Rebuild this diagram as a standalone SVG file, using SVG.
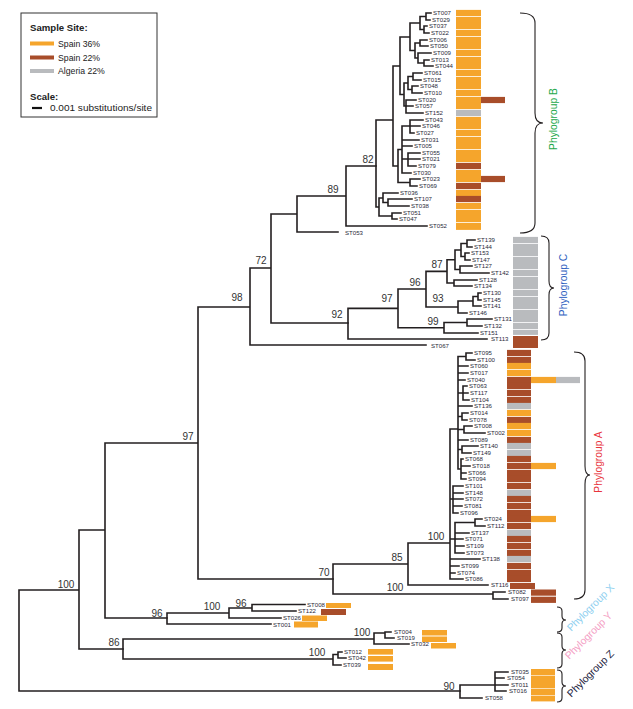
<svg xmlns="http://www.w3.org/2000/svg" width="633" height="709" viewBox="0 0 633 709">
<style>
.ln{fill:none;stroke:#231f20;stroke-width:1.6;stroke-linecap:square}
.br{fill:none;stroke:#231f20;stroke-width:1.1}
.lf{font-family:'Liberation Sans',Arial,sans-serif;font-size:6.1px;fill:#2a2a3a}
.bs{font-family:'Liberation Sans',Arial,sans-serif;font-size:10px;fill:#333;text-anchor:middle}
.lg{font-family:'Liberation Sans',Arial,sans-serif;font-size:8.7px;fill:#222}
.lgb{font-family:'Liberation Sans',Arial,sans-serif;font-size:9.6px;font-weight:bold;fill:#222}
.pg{font-family:'Liberation Sans',Arial,sans-serif;font-size:10.3px;text-anchor:middle}
.o{fill:#f5a52c}.b{fill:#a84d2a}.g{fill:#b9bbbe}
</style>
<rect width="633" height="709" fill="#fff"/>
<g id="legend">
<rect x="21" y="13" width="136" height="104" fill="#fff" stroke="#333" stroke-width="1"/>
<text class="lgb" x="30" y="30.5">Sample Site:</text>
<rect class="o" x="30" y="41.5" width="24" height="4"/><text class="lg" x="58" y="46.5">Spain 36%</text>
<rect class="b" x="30" y="55.5" width="24" height="4"/><text class="lg" x="58" y="60.5">Spain 22%</text>
<rect class="g" x="30" y="69" width="24" height="4"/><text class="lg" x="58" y="74">Algeria 22%</text>
<text class="lgb" x="30" y="99.5">Scale:</text>
<line x1="32" y1="108" x2="42" y2="108" stroke="#111" stroke-width="2.2"/>
<text class="lg" x="50" y="111" textLength="102" lengthAdjust="spacingAndGlyphs">0.001 substitutions/site</text>
</g>
<g id="connectors">
<path class="ln" d="M19 590V691M19 590H79M19 691H460M79 530V649M79 530H105M79 649H123M105 443V618M105 443H198M105 618H167M198 307V579M198 307H250M198 579H333M250 268V345M250 268H271M250 345H426M271 214V323M271 214H297M271 323H348M297 196V232M297 196H346M297 232H338M346 166V226M346 166H376M346 226H427"/>
<path class="ln" d="M376 120V207M376 120H393M393 66V166M393 66H400M400 37V94.5M400 37H410M410 23V50.5M410 23H420M420 16.5V29.5M420 16.5H426M426 13V20M426 13H431M426 20H430M420 29.5H424M424 26V33M424 26H427M424 33H429M410 50.5H415M415 43V58M415 43H420M420 40V46M420 40H427M420 46H428M415 58H418M418 53V63M418 53H431M418 63H424M424 60V66M424 60H429M424 66H433M400 94.5H404M404 83V106M404 83H408M408 76.5V89.5M408 76.5H413M413 73V80M413 73H422M413 80H421M408 89.5H412M412 86V93M412 86H418M412 93H422M404 106H406M406 100V113M406 100H416M406 106H413M406 113H423M393 166H398M398 149.5V182.5M398 149.5H402M402 126V173M402 126H410M410 120V133M410 120H423M410 126H420M410 133H414M402 140H419M402 146H412M402 159H408M408 153V166M408 153H420M408 159H420M408 166H416M402 173H411M398 182.5H410M410 179V186M410 179H420M410 186H417M376 207H379M379 198V216M379 198H383M383 193V202.5M383 193H398M383 202.5H388M388 199V206M388 199H412M388 206H409M379 216H392M392 213V219M392 213H401M392 219H397"/>
<path class="ln" d="M348 308.4V339M348 308.4H398M348 339H487M398 289V327.8M398 289H426M398 327.8H444M426 271.4V307M426 271.4H447M426 307H458M447 259.8V283M447 259.8H455M447 283H454M454 280V286M454 280H477M454 286H472M455 250V269.5M455 250H461M455 269.5H460M461 243.5V256.5M461 243.5H467M461 256.5H465M467 240V247M467 240H475M467 247H472M465 253V260M465 253H469M465 260H470M460 266V273M460 266H472M460 273H489M458 301V313M458 301H473M458 313H467M473 296.5V306M473 296.5H478M473 306H481M478 293V300M478 293H481M478 300H481M444 322.5V333M444 322.5H467M444 333H478M467 319V326M467 319H492M467 326H482"/>
<path class="ln" d="M333 564V594M333 564H408M333 594H493M493 592V599M493 592H505M493 599H508M408 543V585M408 543H450M408 585H488M450 429V579M450 429H458M458 356.5V469M458 356.5H466M466 353V360M466 353H472M466 360H475M458 366H468M458 373H468M458 380H465M458 393H463M463 386V400M463 386H467M463 393H468M463 400H469M458 406H472M458 416.5H462M462 413V420M462 413H468M462 420H467M458 429.5H464M464 426V433M464 426H472M464 433H485M458 440H468M458 449.5H462M462 446V453M462 446H478M462 453H471M458 469H461M461 459V479M461 459H463M461 466H470M461 473H466M461 479H466M450 499H453M453 486V513M453 486H463M453 493H463M453 499H463M453 506H462M453 513H458M450 539H455M455 522.5V553M455 522.5H475M475 519V526M475 519H482M475 526H485M455 533H469M455 539H463M455 546H464M455 553H464M450 559H480M450 566H459M450 573H455M450 579H463"/>
<path class="ln" d="M167 613V624M167 613H229M167 624H271M229 608V618M229 608H252M229 618H281M252 604.5V611M252 604.5H305M252 611H296M123 639V659M123 639H374M123 659H333M374 633V644M374 633H385M385 632V638M385 632H391M385 638H394M374 644H409M333 654.5V665M333 654.5H338M338 652V658M338 652H342M338 658H346M333 665H341M460 685V698M460 685H495M495 672V691M495 672H508M495 678H504M495 685H508M495 691H506M460 698H482"/>
</g>
<g id="bootstrap">
<text class="bs" x="66" y="588">100</text>
<text class="bs" x="188" y="440">97</text>
<text class="bs" x="237" y="301">98</text>
<text class="bs" x="261" y="264">72</text>
<text class="bs" x="333" y="193">89</text>
<text class="bs" x="368" y="163">82</text>
<text class="bs" x="337" y="318">92</text>
<text class="bs" x="387" y="302">97</text>
<text class="bs" x="415" y="286">96</text>
<text class="bs" x="437" y="268">87</text>
<text class="bs" x="438" y="302">93</text>
<text class="bs" x="433" y="325">99</text>
<text class="bs" x="436" y="540">100</text>
<text class="bs" x="397" y="561">85</text>
<text class="bs" x="324" y="576">70</text>
<text class="bs" x="395" y="591">100</text>
<text class="bs" x="157" y="616.5">96</text>
<text class="bs" x="212" y="610">100</text>
<text class="bs" x="241" y="607">96</text>
<text class="bs" x="114" y="646">86</text>
<text class="bs" x="362" y="636">100</text>
<text class="bs" x="317" y="656">100</text>
<text class="bs" x="449" y="690">90</text>
</g>
<g id="group-B">
<g id="ST007"><text class="lf" x="433" y="15.2">ST007</text><rect class="o" x="456" y="9.9" width="25" height="6.2"/></g>
<g id="ST029"><text class="lf" x="432" y="22.2">ST029</text><rect class="o" x="456" y="16.9" width="25" height="6.2"/></g>
<g id="ST037"><text class="lf" x="429" y="28.2">ST037</text><rect class="o" x="456" y="22.9" width="25" height="6.2"/></g>
<g id="ST022"><text class="lf" x="431" y="35.2">ST022</text><rect class="o" x="456" y="29.9" width="25" height="6.2"/></g>
<g id="ST006"><text class="lf" x="429" y="42.2">ST006</text><rect class="o" x="456" y="36.9" width="25" height="6.2"/></g>
<g id="ST050"><text class="lf" x="430" y="48.2">ST050</text><rect class="o" x="456" y="42.9" width="25" height="6.2"/></g>
<g id="ST009"><text class="lf" x="433" y="55.2">ST009</text><rect class="o" x="456" y="49.9" width="25" height="6.2"/></g>
<g id="ST013"><text class="lf" x="431" y="62.2">ST013</text><rect class="o" x="456" y="56.9" width="25" height="6.2"/></g>
<g id="ST044"><text class="lf" x="435" y="68.2">ST044</text><rect class="o" x="456" y="62.9" width="25" height="6.2"/></g>
<g id="ST061"><text class="lf" x="424" y="75.2">ST061</text><rect class="o" x="456" y="69.9" width="25" height="6.2"/></g>
<g id="ST015"><text class="lf" x="423" y="82.2">ST015</text><rect class="o" x="456" y="76.9" width="25" height="6.2"/></g>
<g id="ST048"><text class="lf" x="420" y="88.2">ST048</text><rect class="o" x="456" y="82.9" width="25" height="6.2"/></g>
<g id="ST010"><text class="lf" x="424" y="95.2">ST010</text><rect class="o" x="456" y="89.9" width="25" height="6.2"/></g>
<g id="ST020"><text class="lf" x="418" y="102.2">ST020</text><rect class="o" x="456" y="96.9" width="25" height="6.2"/><rect class="b" x="481" y="96.9" width="24" height="6.2"/></g>
<g id="ST057"><text class="lf" x="415" y="108.2">ST057</text><rect class="o" x="456" y="102.9" width="25" height="6.2"/></g>
<g id="ST152"><text class="lf" x="425" y="115.2">ST152</text><rect class="g" x="456" y="109.9" width="25" height="6.2"/></g>
<g id="ST043"><text class="lf" x="425" y="122.2">ST043</text><rect class="o" x="456" y="116.9" width="25" height="6.2"/></g>
<g id="ST046"><text class="lf" x="422" y="128.2">ST046</text><rect class="o" x="456" y="122.9" width="25" height="6.2"/></g>
<g id="ST027"><text class="lf" x="416" y="135.2">ST027</text><rect class="o" x="456" y="129.9" width="25" height="6.2"/></g>
<g id="ST031"><text class="lf" x="421" y="142.2">ST031</text><rect class="o" x="456" y="136.9" width="25" height="6.2"/></g>
<g id="ST005"><text class="lf" x="414" y="148.2">ST005</text><rect class="o" x="456" y="142.9" width="25" height="6.2"/></g>
<g id="ST055"><text class="lf" x="422" y="155.2">ST055</text><rect class="o" x="456" y="149.9" width="25" height="6.2"/></g>
<g id="ST021"><text class="lf" x="422" y="161.2">ST021</text><rect class="o" x="456" y="155.9" width="25" height="6.2"/></g>
<g id="ST079"><text class="lf" x="418" y="168.2">ST079</text><rect class="b" x="456" y="162.9" width="25" height="6.2"/></g>
<g id="ST030"><text class="lf" x="413" y="175.2">ST030</text><rect class="o" x="456" y="169.9" width="25" height="6.2"/></g>
<g id="ST023"><text class="lf" x="422" y="181.2">ST023</text><rect class="o" x="456" y="175.9" width="25" height="6.2"/><rect class="b" x="481" y="175.9" width="24" height="6.2"/></g>
<g id="ST069"><text class="lf" x="419" y="188.2">ST069</text><rect class="b" x="456" y="182.9" width="25" height="6.2"/></g>
<g id="ST036"><text class="lf" x="400" y="195.2">ST036</text><rect class="o" x="456" y="189.9" width="25" height="6.2"/></g>
<g id="ST107"><text class="lf" x="414" y="201.2">ST107</text><rect class="b" x="456" y="195.9" width="25" height="6.2"/></g>
<g id="ST038"><text class="lf" x="411" y="208.2">ST038</text><rect class="o" x="456" y="202.9" width="25" height="6.2"/></g>
<g id="ST051"><text class="lf" x="403" y="215.2">ST051</text><rect class="o" x="456" y="209.9" width="25" height="6.2"/></g>
<g id="ST047"><text class="lf" x="399" y="221.2">ST047</text><rect class="o" x="456" y="215.9" width="25" height="6.2"/></g>
<g id="ST052"><text class="lf" x="429" y="228.2">ST052</text><rect class="o" x="456" y="222.9" width="25" height="7"/></g>
<g id="ST053"><text class="lf" x="345" y="235.2">ST053</text></g>
</g>
<g id="group-C">
<g id="ST139"><text class="lf" x="477" y="242.2">ST139</text><rect class="g" x="513" y="236.9" width="25" height="6.2"/></g>
<g id="ST144"><text class="lf" x="474" y="249.2">ST144</text><rect class="g" x="513" y="243.9" width="25" height="6.2"/></g>
<g id="ST153"><text class="lf" x="471" y="255.2">ST153</text><rect class="g" x="513" y="249.9" width="25" height="6.2"/></g>
<g id="ST147"><text class="lf" x="472" y="262.2">ST147</text><rect class="g" x="513" y="256.9" width="25" height="6.2"/></g>
<g id="ST127"><text class="lf" x="474" y="268.2">ST127</text><rect class="g" x="513" y="262.9" width="25" height="6.2"/></g>
<g id="ST142"><text class="lf" x="491" y="275.2">ST142</text><rect class="g" x="513" y="269.9" width="25" height="6.2"/></g>
<g id="ST128"><text class="lf" x="479" y="282.2">ST128</text><rect class="g" x="513" y="276.9" width="25" height="6.2"/></g>
<g id="ST134"><text class="lf" x="474" y="288.2">ST134</text><rect class="g" x="513" y="282.9" width="25" height="6.2"/></g>
<g id="ST130"><text class="lf" x="483" y="295.2">ST130</text><rect class="g" x="513" y="289.9" width="25" height="6.2"/></g>
<g id="ST145"><text class="lf" x="483" y="302.2">ST145</text><rect class="g" x="513" y="296.9" width="25" height="6.2"/></g>
<g id="ST141"><text class="lf" x="483" y="308.2">ST141</text><rect class="g" x="513" y="302.9" width="25" height="6.2"/></g>
<g id="ST146"><text class="lf" x="469" y="315.2">ST146</text><rect class="g" x="513" y="309.9" width="25" height="6.2"/></g>
<g id="ST131"><text class="lf" x="494" y="321.2">ST131</text><rect class="g" x="513" y="315.9" width="25" height="6.2"/></g>
<g id="ST132"><text class="lf" x="484" y="328.2">ST132</text><rect class="g" x="513" y="322.9" width="25" height="6.2"/></g>
<g id="ST151"><text class="lf" x="480" y="335.2">ST151</text><rect class="g" x="513" y="329.9" width="25" height="5"/></g>
<g id="ST113"><text class="lf" x="491" y="341.2">ST113</text><rect class="b" x="513" y="336" width="25" height="12"/></g>
<g id="ST067"><text class="lf" x="431" y="348.2">ST067</text></g>
</g>
<g id="group-A">
<g id="ST095"><text class="lf" x="474" y="355.2">ST095</text><rect class="b" x="507" y="349.9" width="24" height="6.2"/></g>
<g id="ST100"><text class="lf" x="477" y="362.2">ST100</text><rect class="b" x="507" y="356.9" width="24" height="6.2"/></g>
<g id="ST060"><text class="lf" x="470" y="368.2">ST060</text><rect class="o" x="507" y="362.9" width="24" height="6.2"/></g>
<g id="ST017"><text class="lf" x="470" y="375.2">ST017</text><rect class="o" x="507" y="369.9" width="24" height="6.2"/></g>
<g id="ST040"><text class="lf" x="467" y="382.2">ST040</text><rect class="b" x="507" y="376.9" width="24" height="6.2"/><rect class="o" x="531" y="376.9" width="25" height="6.2"/><rect class="g" x="556" y="376.9" width="24" height="6.2"/></g>
<g id="ST063"><text class="lf" x="469" y="388.2">ST063</text><rect class="b" x="507" y="382.9" width="24" height="6.2"/></g>
<g id="ST117"><text class="lf" x="470" y="395.2">ST117</text><rect class="b" x="507" y="389.9" width="24" height="6.2"/></g>
<g id="ST104"><text class="lf" x="471" y="402.2">ST104</text><rect class="b" x="507" y="396.9" width="24" height="6.2"/></g>
<g id="ST136"><text class="lf" x="474" y="408.2">ST136</text><rect class="g" x="507" y="402.9" width="24" height="6.2"/></g>
<g id="ST014"><text class="lf" x="470" y="415.2">ST014</text><rect class="o" x="507" y="409.9" width="24" height="6.2"/></g>
<g id="ST078"><text class="lf" x="469" y="422.2">ST078</text><rect class="b" x="507" y="416.9" width="24" height="6.2"/></g>
<g id="ST008a"><text class="lf" x="474" y="428.2">ST008</text><rect class="o" x="507" y="422.9" width="24" height="6.2"/></g>
<g id="ST002"><text class="lf" x="487" y="435.2">ST002</text><rect class="o" x="507" y="429.9" width="24" height="6.2"/></g>
<g id="ST089"><text class="lf" x="470" y="442.2">ST089</text><rect class="b" x="507" y="436.9" width="24" height="6.2"/></g>
<g id="ST140"><text class="lf" x="480" y="448.2">ST140</text><rect class="g" x="507" y="442.9" width="24" height="6.2"/></g>
<g id="ST149"><text class="lf" x="473" y="455.2">ST149</text><rect class="g" x="507" y="449.9" width="24" height="6.2"/></g>
<g id="ST068"><text class="lf" x="465" y="461.2">ST068</text><rect class="b" x="507" y="455.9" width="24" height="6.2"/></g>
<g id="ST018"><text class="lf" x="472" y="468.2">ST018</text><rect class="b" x="507" y="462.9" width="24" height="6.2"/><rect class="o" x="531" y="462.9" width="25" height="6.2"/></g>
<g id="ST066"><text class="lf" x="468" y="475.2">ST066</text><rect class="b" x="507" y="469.9" width="24" height="6.2"/></g>
<g id="ST094"><text class="lf" x="468" y="481.2">ST094</text><rect class="b" x="507" y="475.9" width="24" height="6.2"/></g>
<g id="ST101"><text class="lf" x="465" y="488.2">ST101</text><rect class="b" x="507" y="482.9" width="24" height="6.2"/></g>
<g id="ST148"><text class="lf" x="465" y="495.2">ST148</text><rect class="g" x="507" y="489.9" width="24" height="6.2"/></g>
<g id="ST072"><text class="lf" x="465" y="501.2">ST072</text><rect class="b" x="507" y="495.9" width="24" height="6.2"/></g>
<g id="ST081"><text class="lf" x="464" y="508.2">ST081</text><rect class="b" x="507" y="502.9" width="24" height="6.2"/></g>
<g id="ST096"><text class="lf" x="460" y="515.2">ST096</text><rect class="b" x="507" y="509.9" width="24" height="6.2"/></g>
<g id="ST024"><text class="lf" x="484" y="521.2">ST024</text><rect class="b" x="507" y="515.9" width="24" height="6.2"/><rect class="o" x="531" y="515.9" width="25" height="6.2"/></g>
<g id="ST112"><text class="lf" x="487" y="528.2">ST112</text><rect class="b" x="507" y="522.9" width="24" height="6.2"/></g>
<g id="ST137"><text class="lf" x="471" y="535.2">ST137</text><rect class="g" x="507" y="529.9" width="24" height="6.2"/></g>
<g id="ST071"><text class="lf" x="465" y="541.2">ST071</text><rect class="b" x="507" y="535.9" width="24" height="6.2"/></g>
<g id="ST109"><text class="lf" x="466" y="548.2">ST109</text><rect class="b" x="507" y="542.9" width="24" height="6.2"/></g>
<g id="ST073"><text class="lf" x="466" y="555.2">ST073</text><rect class="b" x="507" y="549.9" width="24" height="6.2"/></g>
<g id="ST138"><text class="lf" x="482" y="561.2">ST138</text><rect class="g" x="507" y="555.9" width="24" height="6.2"/></g>
<g id="ST099"><text class="lf" x="461" y="568.2">ST099</text><rect class="b" x="507" y="562.9" width="24" height="6.2"/></g>
<g id="ST074"><text class="lf" x="457" y="575.2">ST074</text><rect class="b" x="507" y="569.9" width="24" height="6.2"/></g>
<g id="ST086"><text class="lf" x="465" y="581.2">ST086</text><rect class="b" x="507" y="575.9" width="24" height="6.2"/></g>
<g id="ST116"><text class="lf" x="491" y="587.2">ST116</text><rect class="b" x="510" y="583" width="25" height="6"/></g>
<g id="ST082"><text class="lf" x="508" y="594.2">ST082</text><rect class="b" x="531" y="589.5" width="25" height="6.2"/></g>
<g id="ST097"><text class="lf" x="511" y="601.2">ST097</text><rect class="b" x="531" y="596.7" width="25" height="6.2"/></g>
</g>
<g id="group-XYZ">
<g id="ST008"><text class="lf" x="307" y="606.7">ST008</text><rect class="o" x="326" y="603" width="25" height="5"/></g>
<g id="ST122"><text class="lf" x="298" y="613.2">ST122</text><rect class="b" x="321" y="609" width="25" height="6"/></g>
<g id="ST026"><text class="lf" x="283" y="620.2">ST026</text><rect class="o" x="302" y="615.5" width="25" height="5.5"/></g>
<g id="ST001"><text class="lf" x="273" y="626.7">ST001</text><rect class="o" x="294" y="621.5" width="24" height="6"/></g>
<g id="ST004"><text class="lf" x="394" y="634.2">ST004</text><rect class="o" x="422" y="630" width="25" height="5.5"/></g>
<g id="ST019"><text class="lf" x="397" y="640.2">ST019</text><rect class="o" x="422" y="636.5" width="25" height="5.5"/></g>
<g id="ST032"><text class="lf" x="411" y="646.2">ST032</text><rect class="o" x="431" y="643" width="25" height="5.5"/></g>
<g id="ST012"><text class="lf" x="344" y="654.2">ST012</text><rect class="o" x="368" y="649" width="25" height="5.6"/></g>
<g id="ST042"><text class="lf" x="348" y="660.2">ST042</text><rect class="o" x="368" y="656" width="25" height="5.6"/></g>
<g id="ST039"><text class="lf" x="343" y="667.2">ST039</text><rect class="o" x="368" y="664" width="25" height="6"/></g>
<g id="ST035"><text class="lf" x="511" y="674.2">ST035</text><rect class="o" x="531" y="669" width="24" height="6"/></g>
<g id="ST054"><text class="lf" x="507" y="680.2">ST054</text><rect class="o" x="531" y="675.6" width="24" height="6.4"/></g>
<g id="ST011"><text class="lf" x="511" y="687.2">ST011</text><rect class="o" x="531" y="682" width="24" height="6.2"/></g>
<g id="ST016"><text class="lf" x="509" y="693.2">ST016</text><rect class="o" x="531" y="688.8" width="24" height="6.2"/></g>
<g id="ST058"><text class="lf" x="485" y="700.2">ST058</text><rect class="o" x="531" y="695.6" width="24" height="5.8"/></g>
</g>
<g id="phylogroups">
<path class="br" d="M520 13Q535 13 535 23V113Q535 123 543 123Q535 123 535 133V223Q535 233 520 233"/>
<text class="pg" fill="#22a84a" transform="translate(556.5 119) rotate(-90)">Phylogroup B</text>
<path class="br" d="M541 236Q549 236 549 243V281Q549 288 554 288Q549 288 549 295V333Q549 340 541 340"/>
<text class="pg" fill="#2f5fbf" transform="translate(566.5 285) rotate(-90)">Phylogroup C</text>
<path class="br" d="M574 352Q585 352 585 361V466Q585 475 590 475Q585 475 585 484V590Q585 599 574 599"/>
<text class="pg" fill="#e8343c" transform="translate(601.5 462) rotate(-90)">Phylogroup A</text>
<path class="br" d="M557 607Q562 607 562 611V616Q562 620 566 620Q562 620 562 624V628Q562 632 557 632"/>
<path class="br" d="M557 633Q562 633 562 637V646Q562 650 566 650Q562 650 562 654V664Q562 668 557 668"/>
<path class="br" d="M557 670Q562 670 562 674V682Q562 686 566 686Q562 686 562 690V698Q562 702 557 702"/>
<text class="pg" fill="#8fd0f0" transform="translate(593 610) rotate(-45)">Phylogroup X</text>
<text class="pg" fill="#f4a0c4" transform="translate(591 638) rotate(-45)">Phylogroup Y</text>
<text class="pg" fill="#1c1c3c" transform="translate(593 676) rotate(-45)">Phylogroup Z</text>
</g>
</svg>
